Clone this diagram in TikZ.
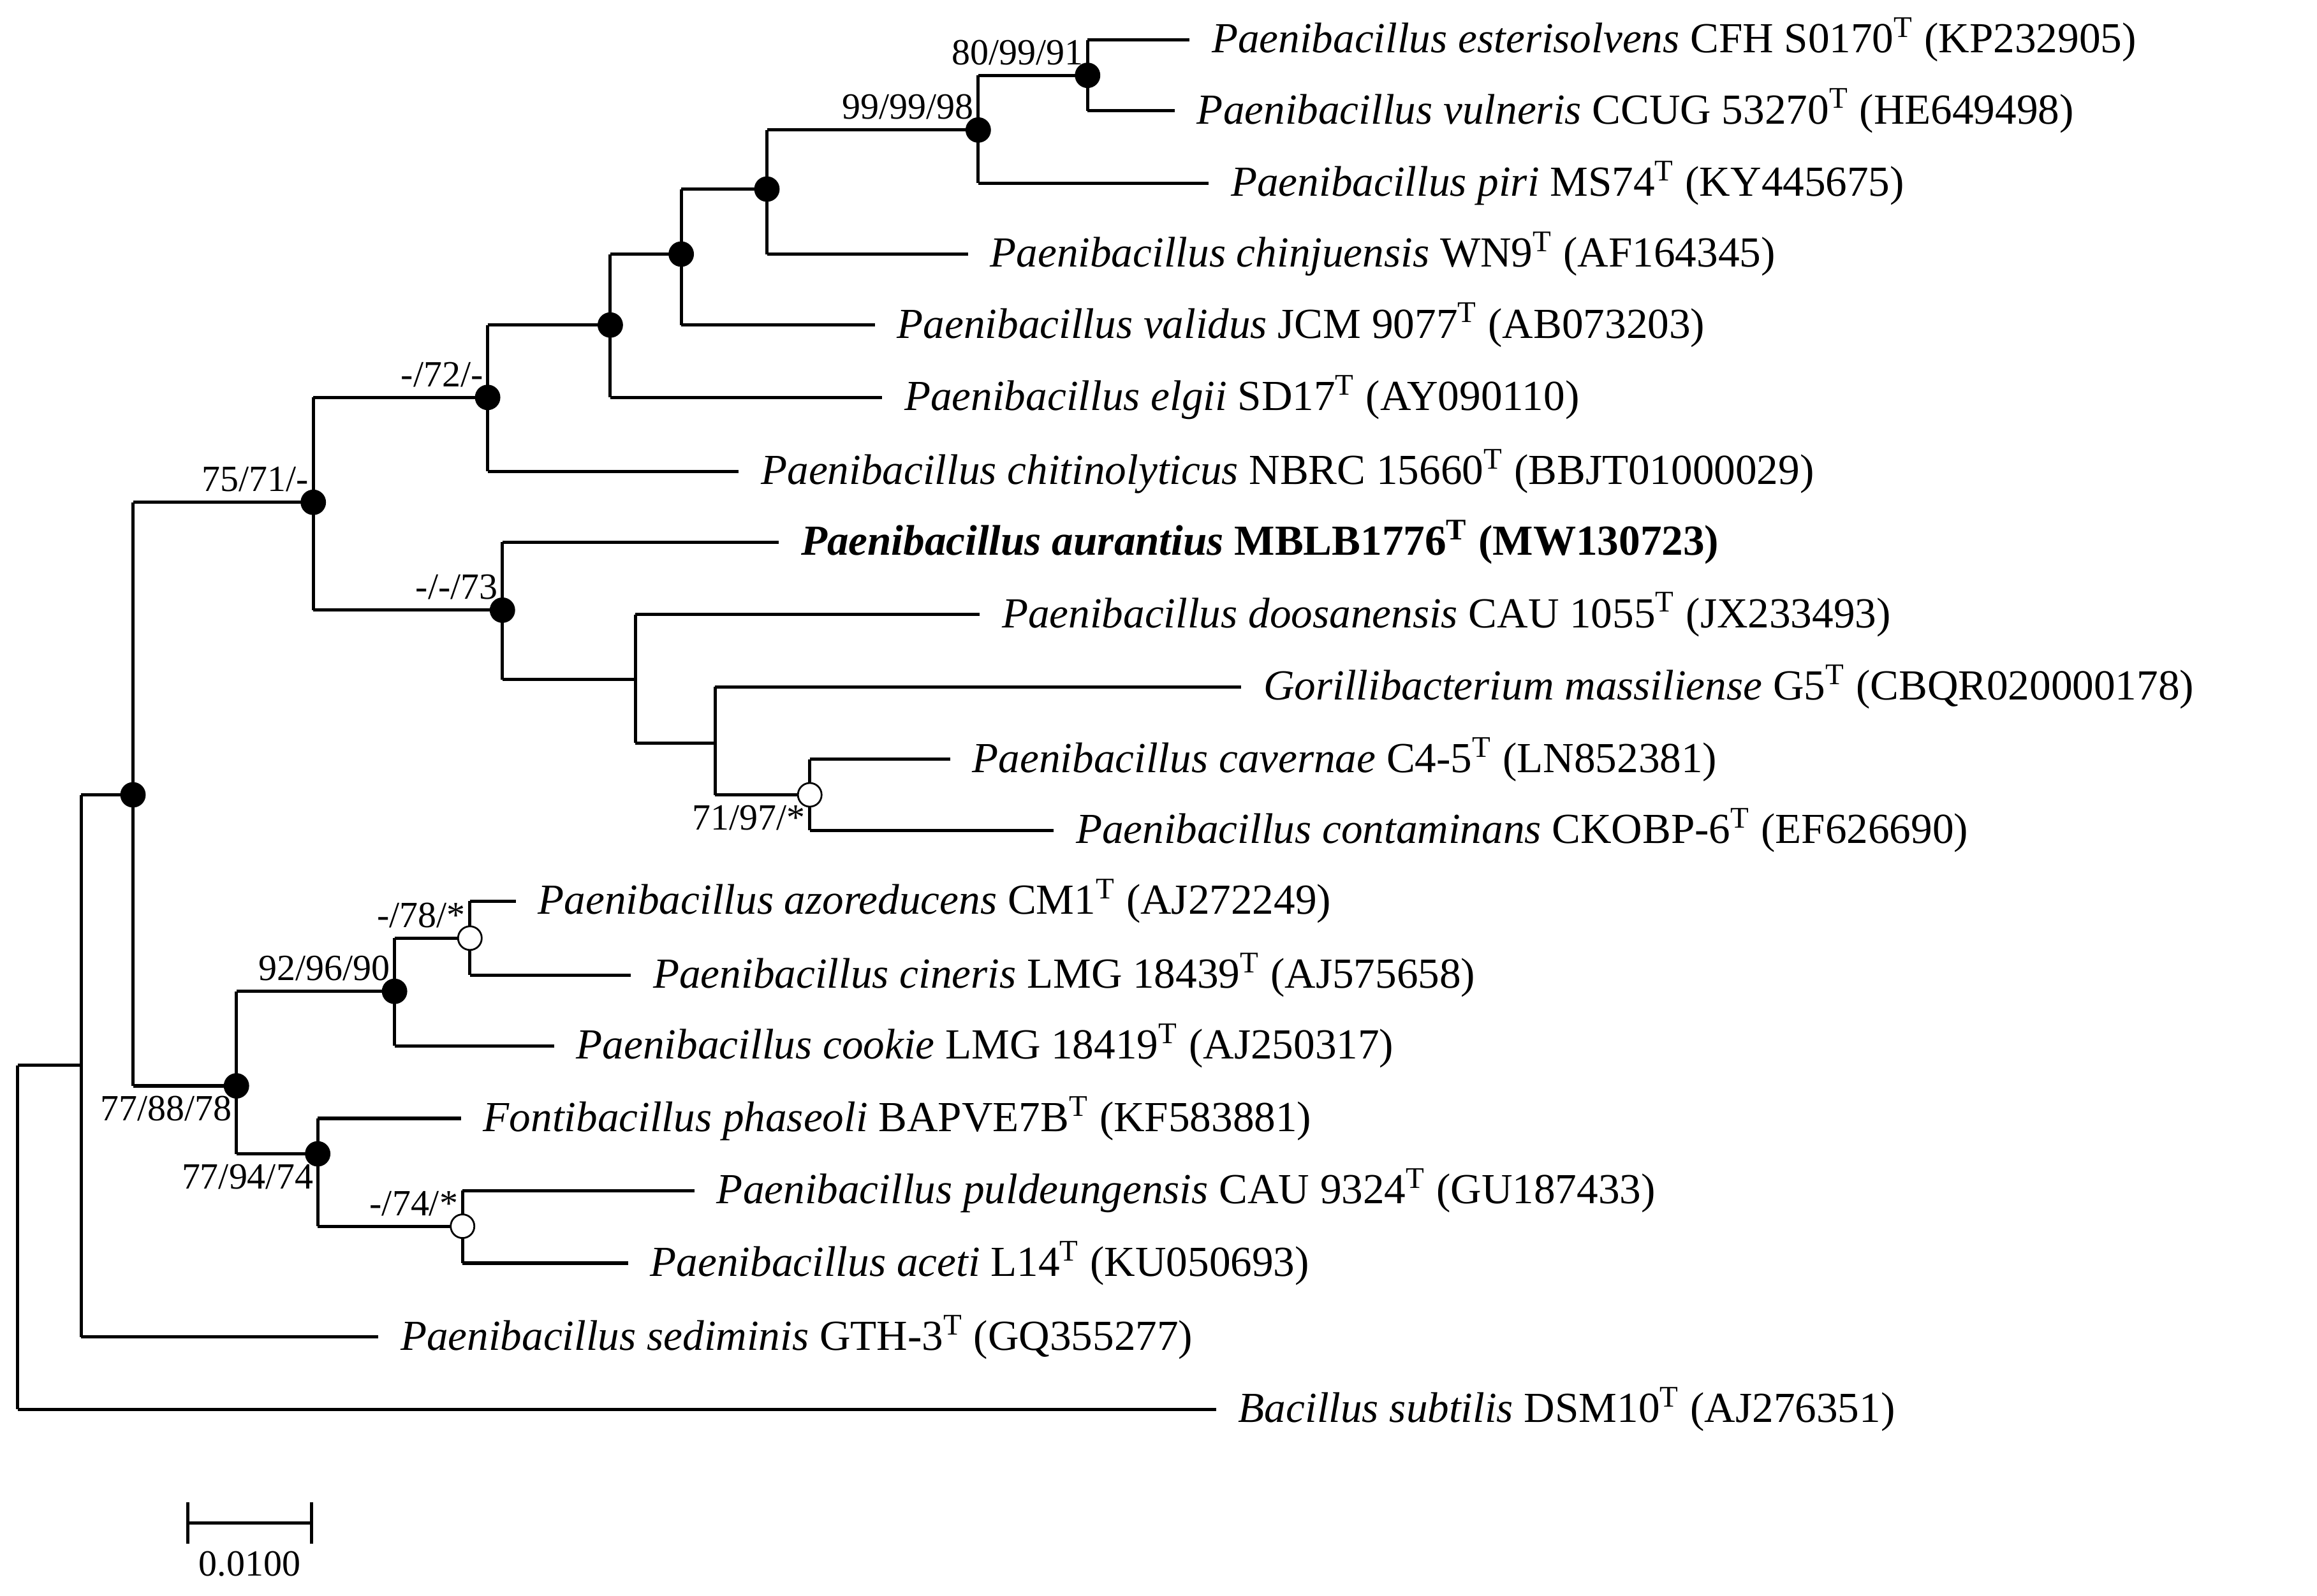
\documentclass[tikz,border=0pt]{standalone}
\usepackage{fontspec}
\setmainfont{Liberation Serif}
\usetikzlibrary{calc}
\begin{document}
\begin{tikzpicture}[x=0.5pt,y=-0.5pt,line width=1.1pt,
  lbl/.style={anchor=west,inner sep=0pt,font=\fontsize{14.5}{16}\selectfont},
  bs/.style={inner sep=0pt,font=\fontsize{12.5}{14}\selectfont},
  fdot/.style={circle,fill=black,draw=black,inner sep=0pt,minimum size=8pt,line width=0.6pt},
  odot/.style={circle,fill=white,draw=black,inner sep=0pt,minimum size=8pt,line width=0.6pt}]
\useasboundingbox (0,0) rectangle (1568,1080);
% internal nodes
\coordinate (root) at (12,835);
\coordinate (A) at (55,721);
\coordinate (B) at (90,538);
\coordinate (C) at (212,340);
\coordinate (E) at (330,269);
\coordinate (G) at (413,220);
\coordinate (H) at (461,172);
\coordinate (I) at (519,128);
\coordinate (J) at (662,88);
\coordinate (K) at (736,51);
\coordinate (F) at (340,413);
\coordinate (L) at (430,460);
\coordinate (M) at (484,503);
\coordinate (N) at (548,538);
\coordinate (D) at (160,735);
\coordinate (O) at (267,671);
\coordinate (Q) at (318,635);
\coordinate (P) at (215,781);
\coordinate (R) at (313,830);
% leaves
\coordinate (l1) at (805,27);
\coordinate (l2) at (795,75);
\coordinate (l3) at (818,124);
\coordinate (l4) at (655,172);
\coordinate (l5) at (592,220);
\coordinate (l6) at (597,269);
\coordinate (l7) at (500,319);
\coordinate (l8) at (527,367);
\coordinate (l9) at (663,416);
\coordinate (l10) at (840,465);
\coordinate (l11) at (643,514);
\coordinate (l12) at (713,562);
\coordinate (l13) at (349,610);
\coordinate (l14) at (427,660);
\coordinate (l15) at (375,708);
\coordinate (l16) at (312,757);
\coordinate (l17) at (470,806);
\coordinate (l18) at (425,855);
\coordinate (l19) at (256,905);
\coordinate (l20) at (823,954);
% edges
\foreach \p/\a/\b in {root/A/l20, A/B/l19, B/C/D, C/E/F, E/G/l7, G/H/l6, H/I/l5, I/J/l4, J/K/l3, K/l1/l2,
  F/l8/L, L/l9/M, M/l10/N, N/l11/l12, D/O/P, O/Q/l15, Q/l13/l14, P/l16/R, R/l17/l18}{
  \draw (\p |- \a) -- (\a);
  \draw (\p |- \b) -- (\b);
  \draw (\p |- \a) -- (\p |- \b);
}
% dots
\foreach \n in {B,C,E,G,H,I,J,K,F,D,O,P}{\node[fdot] at (\n) {};}
\foreach \n in {N,Q,R}{\node[odot] at (\n) {};}
% support labels
\node[bs,anchor=south east] at ([xshift=-1,yshift=3]K) {80/99/91};
\node[bs,anchor=south east] at ([xshift=-1,yshift=3]J) {99/99/98};
\node[bs,anchor=south east] at ([xshift=-1,yshift=3]E) {-/72/-};
\node[bs,anchor=south east] at ([xshift=-1,yshift=3]C) {75/71/-};
\node[bs,anchor=south east] at ([xshift=-1,yshift=3]F) {-/-/73};
\node[bs,anchor=north east] at ([xshift=-1,yshift=-3]N) {71/97/*};
\node[bs,anchor=south east] at ([xshift=-1,yshift=3]Q) {-/78/*};
\node[bs,anchor=south east] at ([xshift=-1,yshift=3]O) {92/96/90};
\node[bs,anchor=north east] at ([xshift=-1,yshift=-3]D) {77/88/78};
\node[bs,anchor=north east] at ([xshift=-1,yshift=-3]P) {77/94/74};
\node[bs,anchor=south east] at ([xshift=-1,yshift=3]R) {-/74/*};
% leaf labels
\node[lbl] at ([xshift=7]l1) {\textit{Paenibacillus esterisolvens} CFH S0170\textsuperscript{T} (KP232905)};
\node[lbl] at ([xshift=7]l2) {\textit{Paenibacillus vulneris} CCUG 53270\textsuperscript{T} (HE649498)};
\node[lbl] at ([xshift=7]l3) {\textit{Paenibacillus piri} MS74\textsuperscript{T} (KY445675)};
\node[lbl] at ([xshift=7]l4) {\textit{Paenibacillus chinjuensis} WN9\textsuperscript{T} (AF164345)};
\node[lbl] at ([xshift=7]l5) {\textit{Paenibacillus validus} JCM 9077\textsuperscript{T} (AB073203)};
\node[lbl] at ([xshift=7]l6) {\textit{Paenibacillus elgii} SD17\textsuperscript{T} (AY090110)};
\node[lbl] at ([xshift=7]l7) {\textit{Paenibacillus chitinolyticus} NBRC 15660\textsuperscript{T} (BBJT01000029)};
\node[lbl] at ([xshift=7]l8) {\bfseries\textit{Paenibacillus aurantius} MBLB1776\textsuperscript{T} (MW130723)};
\node[lbl] at ([xshift=7]l9) {\textit{Paenibacillus doosanensis} CAU 1055\textsuperscript{T} (JX233493)};
\node[lbl] at ([xshift=7]l10) {\textit{Gorillibacterium massiliense} G5\textsuperscript{T} (CBQR020000178)};
\node[lbl] at ([xshift=7]l11) {\textit{Paenibacillus cavernae} C4-5\textsuperscript{T} (LN852381)};
\node[lbl] at ([xshift=7]l12) {\textit{Paenibacillus contaminans} CKOBP-6\textsuperscript{T} (EF626690)};
\node[lbl] at ([xshift=7]l13) {\textit{Paenibacillus azoreducens} CM1\textsuperscript{T} (AJ272249)};
\node[lbl] at ([xshift=7]l14) {\textit{Paenibacillus cineris} LMG 18439\textsuperscript{T} (AJ575658)};
\node[lbl] at ([xshift=7]l15) {\textit{Paenibacillus cookie} LMG 18419\textsuperscript{T} (AJ250317)};
\node[lbl] at ([xshift=7]l16) {\textit{Fontibacillus phaseoli} BAPVE7B\textsuperscript{T} (KF583881)};
\node[lbl] at ([xshift=7]l17) {\textit{Paenibacillus puldeungensis} CAU 9324\textsuperscript{T} (GU187433)};
\node[lbl] at ([xshift=7]l18) {\textit{Paenibacillus aceti} L14\textsuperscript{T} (KU050693)};
\node[lbl] at ([xshift=7]l19) {\textit{Paenibacillus sediminis} GTH-3\textsuperscript{T} (GQ355277)};
\node[lbl] at ([xshift=7]l20) {\textit{Bacillus subtilis} DSM10\textsuperscript{T} (AJ276351)};
% scale bar
\coordinate (s1) at (127,1031);
\coordinate (s2) at (211,1031);
\draw (s1) -- (s2);
\draw ([yshift=7]s1) -- ([yshift=-7]s1);
\draw ([yshift=7]s2) -- ([yshift=-7]s2);
\node[bs,anchor=north] at ([yshift=-9]$(s1)!0.5!(s2)$) {0.0100};
\end{tikzpicture}
\end{document}
